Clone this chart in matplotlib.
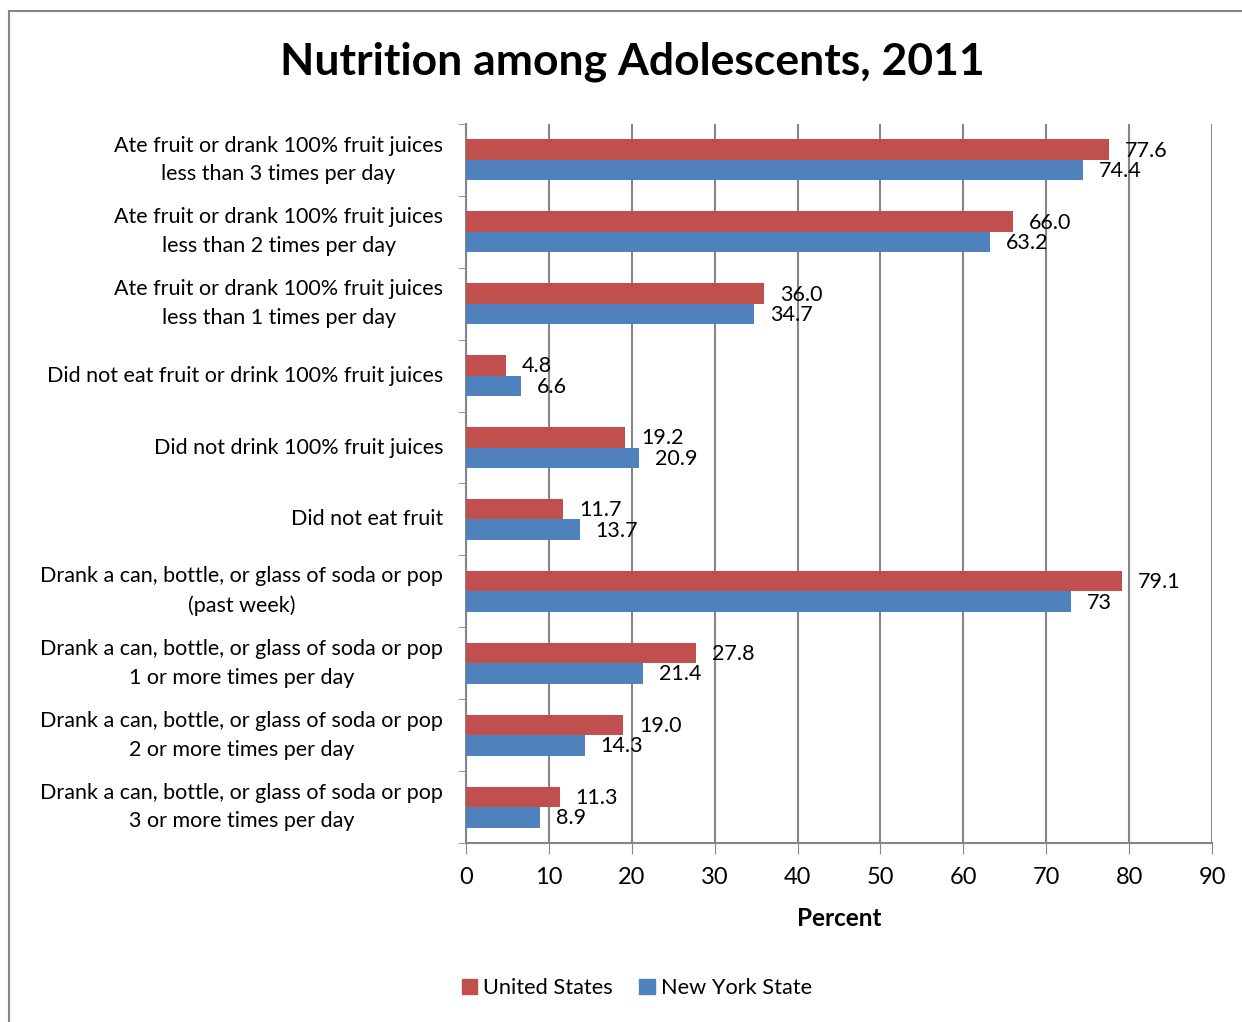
import matplotlib.pyplot as plt
from matplotlib.patches import Rectangle, Patch
import numpy as np

plt.rcParams['font.family'] = ['Lato', 'DejaVu Sans']

CATEGORIES = [
    "Ate fruit or drank 100% fruit juices\nless than 3 times per day",
    "Ate fruit or drank 100% fruit juices\nless than 2 times per day",
    "Ate fruit or drank 100% fruit juices\nless than 1 times per day",
    "Did not eat fruit or drink 100% fruit juices",
    "Did not drink 100% fruit juices",
    "Did not eat fruit",
    "Drank a can, bottle, or glass of soda or pop\n(past week)",
    "Drank a can, bottle, or glass of soda or pop\n1 or more times per day",
    "Drank a can, bottle, or glass of soda or pop\n2 or more times per day",
    "Drank a can, bottle, or glass of soda or pop\n3 or more times per day",
]
US = [77.6, 66.0, 36.0, 4.8, 19.2, 11.7, 79.1, 27.8, 19.0, 11.3]
NY = [74.4, 63.2, 34.7, 6.6, 20.9, 13.7, 73, 21.4, 14.3, 8.9]
US_LABELS = ["77.6", "66.0", "36.0", "4.8", "19.2", "11.7", "79.1", "27.8", "19.0", "11.3"]
NY_LABELS = ["74.4", "63.2", "34.7", "6.6", "20.9", "13.7", "73", "21.4", "14.3", "8.9"]

RED = '#C0504D'
BLUE = '#4F81BD'
GRID = '#868686'

fig = plt.figure(figsize=(12.42, 10.22), dpi=100)
# outer chart border (runs off the right and bottom edges)
fig.patches.append(Rectangle((9 / 1242, -0.1), 1.2, 1 - 11 / 1022 + 0.1,
                             transform=fig.transFigure, fill=False,
                             edgecolor='#868686', linewidth=1.5))

ax = fig.add_axes([466 / 1242, 1 - 843 / 1022, (1212 - 466) / 1242, (843 - 124) / 1022])

y = np.arange(len(CATEGORIES))
h = 0.285
ax.barh(y - h / 2, US, height=h, color=RED, label='United States', zorder=3)
ax.barh(y + h / 2, NY, height=h, color=BLUE, label='New York State', zorder=3)

for i in range(len(y)):
    ax.annotate(US_LABELS[i], (US[i], y[i] - h / 2), xytext=(16, -1),
                textcoords='offset pixels', va='center', ha='left', fontsize=15.5)
    ax.annotate(NY_LABELS[i], (NY[i], y[i] + h / 2), xytext=(16, -1),
                textcoords='offset pixels', va='center', ha='left', fontsize=15.5)

ax.set_xlim(0, 90)
ax.set_ylim(len(y) - 0.5, -0.5)
ax.set_xticks(np.arange(0, 91, 10))
ax.tick_params(axis='x', labelsize=17, length=8, color=GRID, pad=9)
ax.set_yticks(y)
ax.set_yticklabels(CATEGORIES, fontsize=15.5, linespacing=1.55)
for t in ax.get_yticklabels():
    t.set_multialignment('center')
    t.set_verticalalignment('center')
ax.set_yticks(np.arange(-0.5, len(y)), minor=True)
ax.tick_params(axis='y', which='major', length=0, pad=16.5)
ax.tick_params(axis='y', which='minor', length=6, color=GRID)

ax.grid(axis='x', color=GRID, linewidth=1.5, zorder=0)
for s in ['top', 'right']:
    ax.spines[s].set_visible(False)
ax.spines['left'].set_color(GRID)
ax.spines['bottom'].set_color(GRID)
ax.spines['left'].set_linewidth(1.5)
ax.spines['bottom'].set_linewidth(1.5)

ax.set_xlabel('Percent', fontsize=17.5, fontweight='bold', labelpad=14)

fig.text(632 / 1242, 1 - 62 / 1022, 'Nutrition among Adolescents, 2011',
         ha='center', va='center', fontsize=32, fontweight='bold')

handles = [Patch(color=RED), Patch(color=BLUE)]
fig.legend(handles, ['United States', 'New York State'], loc='center',
           bbox_to_anchor=(637 / 1242, 1 - 988 / 1022), ncol=2, frameon=False,
           fontsize=15.7, handlelength=0.7, handleheight=0.7, handletextpad=0.3,
           columnspacing=1.2)

fig.savefig('out.png', dpi=100)
